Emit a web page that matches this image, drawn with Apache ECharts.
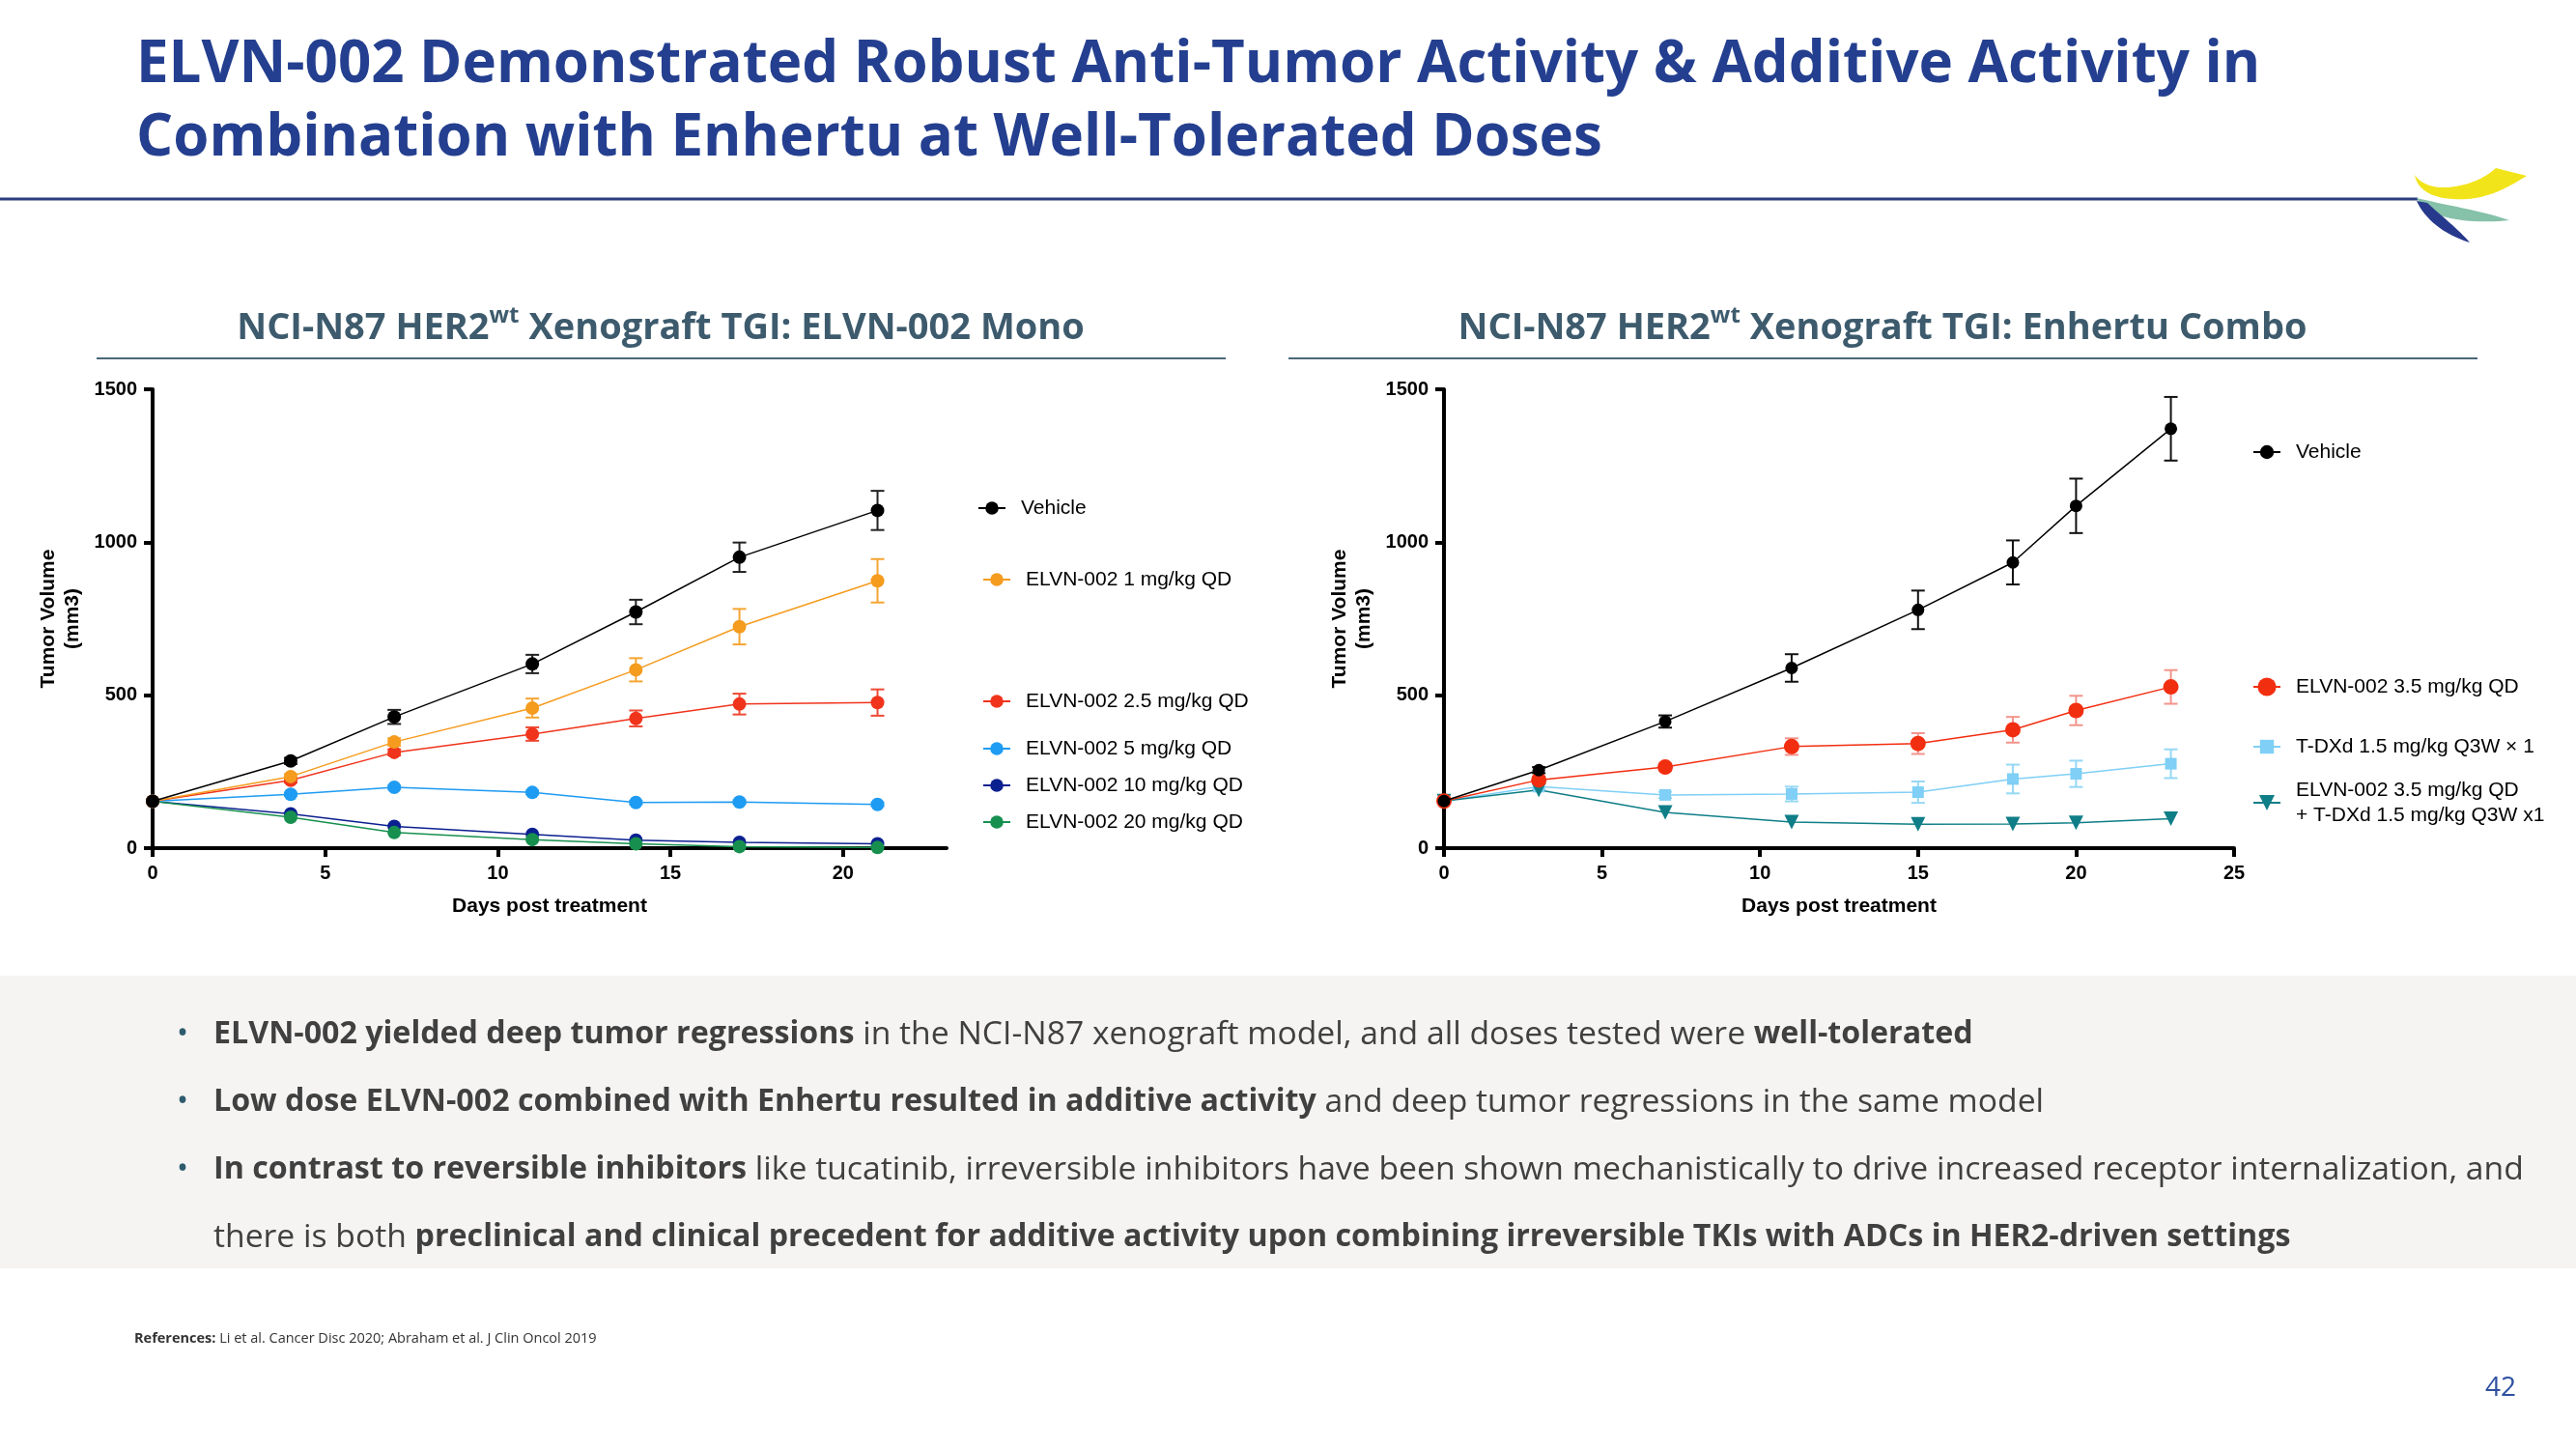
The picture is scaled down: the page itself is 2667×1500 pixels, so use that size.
<!DOCTYPE html>
<html><head><meta charset="utf-8">
<script src="https://cdn.jsdelivr.net/npm/echarts@6.0.0/dist/echarts.min.js"></script>
<style>html,body{margin:0;padding:0;background:#fff}#c{width:2667px;height:1500px}</style>
</head><body><div id="c"></div>
<script>
// ---------- DATA ----------
// Left chart: ELVN-002 mono
const leftDays = [0, 4, 7, 11, 14, 17, 21];
const leftNames = ['Vehicle', 'ELVN-002 1 mg/kg QD', 'ELVN-002 2.5 mg/kg QD', 'ELVN-002 5 mg/kg QD', 'ELVN-002 10 mg/kg QD', 'ELVN-002 20 mg/kg QD'];
const leftVehicle    = [153, 285, 429, 602, 772, 951, 1104];
const leftVehicleErr = [0, 10, 23, 30, 40, 48, 64];
const left1mg        = [153, 234, 347, 458, 583, 724, 874];
const left1mgErr     = [0, 8, 12, 31, 38, 58, 71];
const left2p5mg      = [153, 222, 313, 373, 424, 471, 476];
const left2p5mgErr   = [0, 8, 10, 22, 26, 34, 43];
const left5mg        = [153, 176, 199, 182, 149, 151, 143];
const left5mgErr     = [0, 5, 6, 6, 6, 6, 6];
const left10mg       = [153, 112, 71, 45, 26, 19, 14];
const left20mg       = [153, 101, 51, 28, 14, 5, 2];
const leftXTicks = [0, 5, 10, 15, 20];

// Right chart: Enhertu combo
const rightDays = [0, 3, 7, 11, 15, 18, 20, 23];
const rightNames = ['Vehicle', 'ELVN-002 3.5 mg/kg QD', 'T-DXd 1.5 mg/kg Q3W × 1', 'ELVN-002 3.5 mg/kg QD\n+ T-DXd 1.5 mg/kg Q3W x1'];
const rightVehicle    = [154, 255, 414, 589, 779, 934, 1119, 1371];
const rightVehicleErr = [0, 10, 20, 45, 63, 72, 89, 104];
const right3p5mg      = [154, 223, 265, 332, 342, 387, 450, 527];
const right3p5mgErr   = [0, 10, 12, 27, 34, 42, 48, 55];
const rightTDXd       = [154, 201, 174, 177, 183, 226, 243, 276];
const rightTDXdErr    = [0, 8, 10, 24, 35, 47, 43, 47];
const rightCombo      = [154, 190, 117, 85, 78, 79, 83, 96];
const rightXTicks = [0, 5, 10, 15, 20, 25];
const yTicks = [0, 500, 1000, 1500];

// ---------- HELPERS ----------
function lineSeries(xi, name, days, vals, color, symbol, size, z, extra) {
  return Object.assign({
    type: 'line', name, xAxisIndex: xi, yAxisIndex: xi,
    data: days.map((d, i) => [d, vals[i]]),
    symbol, symbolSize: size, showSymbol: true, silent: true, z,
    lineStyle: { color, width: 1.5 }, itemStyle: { color, opacity: 1 }
  }, extra || {});
}
function errSeries(xi, days, vals, errs, color) {
  const data = [];
  days.forEach((d, i) => { if (errs[i] > 0) data.push([d, vals[i], errs[i]]); });
  return {
    type: 'custom', xAxisIndex: xi, yAxisIndex: xi, silent: true, z: 1,
    data, encode: { x: 0, y: 1 },
    renderItem(params, api) {
      const x = api.value(0), y = api.value(1), e = api.value(2);
      const p1 = api.coord([x, y + e]), p2 = api.coord([x, y - e]);
      const c = 7, st = { stroke: color, lineWidth: 2 };
      return { type: 'group', children: [
        { type: 'line', shape: { x1: p1[0], y1: p1[1], x2: p2[0], y2: p2[1] }, style: st },
        { type: 'line', shape: { x1: p1[0] - c, y1: p1[1], x2: p1[0] + c, y2: p1[1] }, style: st },
        { type: 'line', shape: { x1: p2[0] - c, y1: p2[1], x2: p2[0] + c, y2: p2[1] }, style: st }
      ]};
    }
  };
}
const axisFont = { fontFamily: 'Liberation Sans', fontWeight: 'bold', fontSize: 20, color: '#000', formatter: v => String(v) };
function xAxisCfg(gi, max, ticks) {
  return {
    gridIndex: gi, type: 'value', min: 0, max, interval: 5,
    axisLine: { show: true, onZero: false, lineStyle: { color: '#000', width: 4 } },
    axisTick: { show: true, length: 9, lineStyle: { color: '#000', width: 4 }, customValues: ticks },
    axisLabel: Object.assign({ margin: 16, customValues: ticks }, axisFont),
    splitLine: { show: false },
    name: 'Days post treatment', nameLocation: 'middle', nameGap: 50,
    nameTextStyle: { fontFamily: 'Liberation Sans', fontWeight: 'bold', fontSize: 21, color: '#000' }
  };
}
function yAxisCfg(gi) {
  return {
    gridIndex: gi, type: 'value', min: 0, max: 1500, interval: 500,
    axisLine: { show: true, onZero: false, lineStyle: { color: '#000', width: 4 } },
    axisTick: { show: true, length: 9, lineStyle: { color: '#000', width: 4 }, customValues: yTicks },
    axisLabel: Object.assign({ margin: 16, customValues: yTicks }, axisFont),
    splitLine: { show: false },
    name: 'Tumor Volume\n(mm3)', nameLocation: 'middle', nameRotate: 90, nameGap: 70,
    nameTextStyle: { fontFamily: 'Liberation Sans', fontWeight: 'bold', fontSize: 21, color: '#000', lineHeight: 25 }
  };
}
function legendItem(name, left, centerY, itemH, twoLine) {
  const lh = 26;
  return {
    data: [name], left, top: twoLine ? centerY - 39 : centerY - 13, orient: 'vertical',
    itemWidth: 28, itemHeight: itemH, padding: 0, selectedMode: false,
    textStyle: { fontFamily: 'Liberation Sans', fontSize: 21, color: '#000', lineHeight: lh,
      padding: twoLine ? [lh, 0, 0, 11] : [0, 0, 0, 11] }
  };
}
function txt(x, y, text, o) {
  return { type: 'text', x, y, silent: true, z: 10,
    style: Object.assign({ text, fill: '#000', fontFamily: 'Open Sans', fontSize: 20,
      align: 'left', textAlign: 'left', verticalAlign: 'middle', textVerticalAlign: 'middle' }, o) };
}
// sample cubic bezier outline (for logo shapes) into polygon points
function bez(start, segs) {
  const pts = [start];
  let p0 = start;
  segs.forEach(s => {
    if (s.length === 1) { pts.push(s[0]); p0 = s[0]; return; }
    const [c1, c2, p3] = s;
    for (let i = 1; i <= 16; i++) {
      const t = i / 16, u = 1 - t;
      pts.push([u*u*u*p0[0] + 3*u*u*t*c1[0] + 3*u*t*t*c2[0] + t*t*t*p3[0],
                u*u*u*p0[1] + 3*u*u*t*c1[1] + 3*u*t*t*c2[1] + t*t*t*p3[1]]);
    }
    p0 = p3;
  });
  return pts;
}

// ---------- COLORS ----------
const C = {
  black: '#000000', orange: '#F59B1E', red: '#F0341C', blue: '#1E9BF2', navy: '#0B2090', green: '#17904F',
  red2: '#F22E10', lblue: '#7FCFF6', teal: '#0F7E87'
};

// ---------- TEXT ----------
const bodyRich = {
  b: { fontFamily: 'Open Sans', fontWeight: 'bold', fontSize: 32.2, fill: '#404040', color: '#404040' },
  n: { fontFamily: 'Open Sans', fontWeight: 'normal', fontSize: 33.7, fill: '#404040', color: '#404040' }
};
const subRich = {
  a: { fontFamily: 'Open Sans', fontWeight: 'bold', fontSize: 38, fill: '#3D5B6D', color: '#3D5B6D', lineHeight: 50 },
  s: { fontFamily: 'Open Sans', fontWeight: 'bold', fontSize: 24, fill: '#3D5B6D', color: '#3D5B6D', verticalAlign: 'top', lineHeight: 50 }
};

const graphics = [
  { type: 'rect', silent: true, z: 0, shape: { x: 0, y: 1010, width: 2667, height: 303 }, style: { fill: '#F5F4F3' } },
  { type: 'line', silent: true, shape: { x1: 0, y1: 206, x2: 2503, y2: 206 }, style: { stroke: '#2B3D7F', lineWidth: 3 } },
  { type: 'line', silent: true, shape: { x1: 100, y1: 371, x2: 1269, y2: 371 }, style: { stroke: '#4A6779', lineWidth: 2 } },
  { type: 'line', silent: true, shape: { x1: 1334, y1: 371, x2: 2565, y2: 371 }, style: { stroke: '#4A6779', lineWidth: 2 } },
  // logo
  { type: 'polygon', silent: true, shape: { points: bez([2500,181], [[[2503,200],[2525,208],[2555,206]], [[2580,204],[2600,192],[2616,182]], [[2584,174]], [[2572,185],[2555,192],[2535,194]], [[2518,195],[2506,190],[2500,181]]]) }, style: { fill: '#F2E41A' } },
  { type: 'polygon', silent: true, shape: { points: bez([2502,205], [[[2530,212],[2570,218],[2598,228]], [[2570,231],[2540,229],[2520,221]], [[2510,216],[2505,211],[2502,205]]]) }, style: { fill: '#86C1A9' } },
  { type: 'polygon', silent: true, shape: { points: bez([2502,208], [[[2510,226],[2530,243],[2557,251]], [[2546,238],[2526,222],[2513,210]]]) }, style: { fill: '#27398C' } },
  // titles
  txt(141, 68, 'ELVN-002 Demonstrated Robust Anti-Tumor Activity & Additive Activity in', { fontWeight: 'bold', fontSize: 60, fill: '#243F8F' }),
  txt(141, 144, 'Combination with Enhertu at Well-Tolerated Doses', { fontWeight: 'bold', fontSize: 60, fill: '#243F8F' }),
  txt(684, 340, '{a|NCI-N87 HER2}{s|wt}{a| Xenograft TGI: ELVN-002 Mono}', { rich: subRich, align: 'center', textAlign: 'center' }),
  txt(1949, 340, '{a|NCI-N87 HER2}{s|wt}{a| Xenograft TGI: Enhertu Combo}', { rich: subRich, align: 'center', textAlign: 'center' }),
  // bullets
  txt(183, 1071, '•', { fontSize: 32, fill: '#2E5C6E' }),
  txt(183, 1141, '•', { fontSize: 32, fill: '#2E5C6E' }),
  txt(183, 1211, '•', { fontSize: 32, fill: '#2E5C6E' }),
  txt(221, 1071, '{b|ELVN-002 yielded deep tumor regressions}{n| in the NCI-N87 xenograft model, and all doses tested were }{b|well-tolerated}', { rich: bodyRich }),
  txt(221, 1141, '{b|Low dose ELVN-002 combined with Enhertu resulted in additive activity}{n| and deep tumor regressions in the same model}', { rich: bodyRich }),
  txt(221, 1211, '{b|In contrast to reversible inhibitors}{n| like tucatinib, irreversible inhibitors have been shown mechanistically to drive increased receptor internalization, and}', { rich: bodyRich }),
  txt(221, 1281, '{n|there is both }{b|preclinical and clinical precedent for additive activity upon combining irreversible TKIs with ADCs in HER2-driven settings}', { rich: bodyRich }),
  // references & page
  txt(139, 1386, '{b|References:}{n| Li et al. Cancer Disc 2020; Abraham et al. J Clin Oncol 2019}', { rich: {
    b: { fontFamily: 'Open Sans', fontWeight: 'bold', fontSize: 14.5, fill: '#333' },
    n: { fontFamily: 'Open Sans', fontSize: 14.5, fill: '#333' } } }),
  txt(2605, 1437, '42', { fontSize: 28, fill: '#2E50A0', align: 'right', textAlign: 'right' })
];

const option = {
  animation: false,
  backgroundColor: '#ffffff',
  grid: [
    { left: 158, top: 403, width: 822, height: 475 },
    { left: 1495, top: 403, width: 818, height: 475 }
  ],
  xAxis: [xAxisCfg(0, 23, leftXTicks), xAxisCfg(1, 25, rightXTicks)],
  yAxis: [yAxisCfg(0), yAxisCfg(1)],
  legend: [
    legendItem(leftNames[0], 1012, 526, 17),
    legendItem(leftNames[1], 1017, 600, 17),
    legendItem(leftNames[2], 1017, 726, 17),
    legendItem(leftNames[3], 1017, 775, 17),
    legendItem(leftNames[4], 1017, 813, 17),
    legendItem(leftNames[5], 1017, 851, 17),
    legendItem(rightNames[0], 2332, 468, 18),
    legendItem(rightNames[1], 2332, 711, 24),
    legendItem(rightNames[2], 2332, 773, 18),
    legendItem(rightNames[3], 2332, 831, 20, true)
  ],
  series: [
    errSeries(0, leftDays, leftVehicle, leftVehicleErr, '#222'),
    errSeries(0, leftDays, left1mg, left1mgErr, '#F5A532'),
    errSeries(0, leftDays, left2p5mg, left2p5mgErr, '#EE4A35'),
    errSeries(0, leftDays, left5mg, left5mgErr, '#4FB0F2'),
    lineSeries(0, leftNames[5], leftDays, left20mg, C.green, 'circle', 14, 3),
    lineSeries(0, leftNames[4], leftDays, left10mg, C.navy, 'circle', 14, 2),
    lineSeries(0, leftNames[3], leftDays, left5mg, C.blue, 'circle', 14, 3),
    lineSeries(0, leftNames[2], leftDays, left2p5mg, C.red, 'circle', 14, 3),
    lineSeries(0, leftNames[1], leftDays, left1mg, C.orange, 'circle', 14, 4),
    lineSeries(0, leftNames[0], leftDays, leftVehicle, C.black, 'circle', 14, 5),

    errSeries(1, rightDays, rightVehicle, rightVehicleErr, '#111'),
    errSeries(1, rightDays, right3p5mg, right3p5mgErr, '#F2948C'),
    errSeries(1, rightDays, rightTDXd, rightTDXdErr, '#95D8F5'),
    lineSeries(1, rightNames[2], rightDays, rightTDXd, C.lblue, 'rect', 12, 3),
    lineSeries(1, rightNames[3], rightDays, rightCombo, C.teal, 'triangle', 15, 3, { symbolRotate: 180 }),
    lineSeries(1, rightNames[1], rightDays, right3p5mg, C.red2, 'circle', 16, 4),
    lineSeries(1, rightNames[0], rightDays, rightVehicle, C.black, 'circle', 13, 5)
  ],
  graphic: graphics
};

const chart = echarts.init(document.getElementById('c'), null, { renderer: 'canvas' });
chart.setOption(option);
</script></body></html>
